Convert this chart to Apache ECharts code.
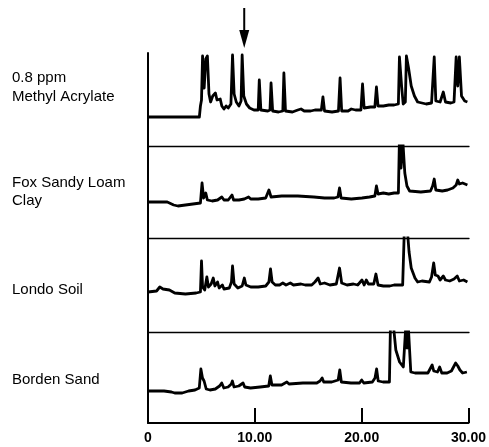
<!DOCTYPE html>
<html><head><meta charset="utf-8">
<script src="https://cdn.jsdelivr.net/npm/echarts@6/dist/echarts.min.js"></script>
<style>html,body{margin:0;padding:0;background:#fff}#c{width:489px;height:447px}</style>
</head><body><div id="c"></div>
<script>
// Retention-time axis (minutes)
const xTicks = [0, 10, 20, 30];
const arrowTime = 8.9;
const panelNames = [["0.8 ppm", "Methyl Acrylate"], ["Fox Sandy Loam", "Clay"], ["Londo Soil"], ["Borden Sand"]];

// Detector response per trace: [time, response]
const methylAcrylate = [[0,29],[4.8,29],[4.9,40],[5.0,46],[5.1,90],[5.25,58],[5.4,87],[5.55,90],[5.7,52],[5.85,44],[6.05,50],[6.3,53],[6.45,46],[6.6,44],[6.75,47],[6.9,40],[7.1,37],[7.3,40],[7.5,38],[7.75,42],[7.9,91],[8.05,52],[8.25,44],[8.5,40],[8.7,45],[8.8,91],[8.95,50],[9.2,42],[9.5,38],[9.9,36],[10.3,36],[10.4,66],[10.55,36],[11.2,35],[11.4,36],[11.5,63],[11.65,35],[12.2,34],[12.6,35],[12.7,73],[12.85,35],[13.5,34],[14.0,36],[14.3,37],[14.6,35],[15.2,35],[15.6,36],[16.2,36],[16.35,49],[16.5,35],[17.2,34],[17.8,35],[17.95,68],[18.1,35],[18.7,35],[19.0,37],[19.4,36],[19.9,36],[20.05,62],[20.2,38],[20.8,39],[21.2,39],[21.35,59],[21.5,40],[22.0,40],[22.5,41],[23.0,41],[23.4,42],[23.5,89],[23.7,60],[23.85,42],[24.05,44],[24.15,90],[24.35,78],[24.6,60],[24.9,50],[25.2,44],[25.6,43],[26.0,42],[26.5,43],[26.75,89],[26.9,45],[27.3,44],[27.6,54],[27.8,44],[28.3,43],[28.6,44],[28.8,89],[28.95,60],[29.1,89],[29.3,50],[29.6,45],[29.85,44]];
const foxSandyLoam = [[0,36],[1.8,36],[2.4,33],[2.8,32],[3.5,33],[4.2,34],[4.9,35],[5.05,55],[5.2,40],[5.4,45],[5.55,38],[6.0,37],[6.5,38],[6.9,41],[7.1,38],[7.5,38],[7.85,43],[8.0,38],[8.5,38],[9.0,39],[9.4,41],[9.6,39],[10.3,39],[11.0,40],[11.3,48],[11.5,41],[12.5,42],[14.0,42],[15.5,41],[16.5,40],[17.4,40],[17.75,41],[17.9,50],[18.05,40],[19.0,39],[20.0,40],[20.7,41],[21.2,42],[21.35,52],[21.5,44],[22.0,45],[22.5,44],[23.0,45],[23.4,45],[23.5,100],[23.65,70],[23.8,100],[24.0,65],[24.2,52],[24.45,47],[25.5,46],[26.4,47],[26.6,52],[26.75,59],[26.9,48],[27.5,47],[28.0,48],[28.5,50],[28.8,53],[28.95,58],[29.1,54],[29.4,55],[29.85,53]];
const londoSoil = [[0,40],[0.8,41],[1.1,45],[1.4,43],[2.0,42],[2.5,39],[3.5,38],[4.5,39],[4.9,40],[5.0,71],[5.1,45],[5.3,42],[5.5,55],[5.65,45],[5.9,48],[6.1,54],[6.25,46],[6.5,50],[6.65,44],[6.95,47],[7.1,43],[7.6,44],[7.8,50],[7.9,66],[8.05,48],[8.4,44],[8.8,46],[9.0,54],[9.15,47],[9.6,45],[10.3,45],[11.0,46],[11.3,50],[11.45,63],[11.6,50],[11.9,47],[12.3,47],[12.6,49],[12.9,47],[13.3,49],[13.6,47],[14.3,48],[14.7,47],[15.3,47],[15.6,50],[15.9,54],[16.1,48],[16.5,49],[17.0,47],[17.6,48],[17.9,64],[18.1,49],[18.6,47],[19.2,48],[19.6,47],[20.0,52],[20.2,47],[20.4,52],[20.6,48],[21.1,48],[21.3,58],[21.5,47],[22.0,46],[22.6,46],[23.0,47],[23.8,47],[23.95,100],[24.25,100],[24.4,80],[24.6,64],[24.95,54],[25.2,50],[25.6,51],[26.3,50],[26.5,55],[26.7,69],[26.85,57],[27.1,56],[27.3,52],[27.6,56],[27.8,52],[28.2,51],[28.6,53],[28.9,56],[29.1,51],[29.5,52],[29.85,50]];
const bordenSand = [[0,32],[1.5,32],[2.2,31],[2.5,30],[3.2,30],[3.8,32],[4.4,33],[4.8,35],[4.95,54],[5.1,45],[5.25,42],[5.45,34],[5.8,33],[6.3,34],[6.7,37],[6.9,40],[7.1,35],[7.5,36],[7.8,39],[7.9,42],[8.05,36],[8.5,37],[8.9,40],[9.05,36],[9.6,35],[10.5,36],[11.3,37],[11.45,47],[11.6,38],[12.5,38],[13.0,41],[13.2,39],[14.5,40],[15.8,40],[16.1,42],[16.3,45],[16.45,41],[17.2,41],[17.8,43],[17.95,53],[18.1,41],[19.0,40],[19.8,40],[20.0,43],[20.2,40],[21.0,41],[21.25,45],[21.4,54],[21.55,42],[22.0,41],[22.6,41],[22.7,100],[22.95,100],[23.2,73],[23.55,61],[23.9,56],[24.05,55],[24.15,100],[24.25,75],[24.35,100],[24.45,100],[24.6,51],[25.0,50],[25.6,50],[26.2,50],[26.4,54],[26.6,58],[26.75,52],[27.1,51],[27.3,56],[27.5,50],[28.0,50],[28.4,52],[28.6,56],[28.8,60],[29.0,57],[29.2,53],[29.45,50],[29.85,51]];

const traces = [methylAcrylate, foxSandyLoam, londoSoil, bordenSand];

// layout (pixels)
const panelTops = [53, 146, 238, 332];
const panelHeights = [93, 92, 94, 91];
const labelY = [[78, 97], [183, 201], [290], [380]];

const chart = echarts.init(document.getElementById('c'), null, {renderer: 'canvas'});
const grids = [], xAxes = [], yAxes = [], series = [];
traces.forEach((tr, i) => {
  const last = i === traces.length - 1;
  grids.push({left: 148, right: 20, top: panelTops[i], height: panelHeights[i], containLabel: false});
  xAxes.push({
    type: 'value', gridIndex: i, min: 0, max: 30, interval: 10,
    axisLine: {show: true, onZero: false, lineStyle: {color: '#000', width: last ? 2 : 1.3}},
    axisTick: {show: last, inside: true, length: 15, lineStyle: {color: '#000', width: 2}},
    axisLabel: {show: last, margin: 8, color: '#000', fontFamily: 'Liberation Sans, Arial', fontWeight: 'bold', fontSize: 14,
      formatter: v => v === 0 ? '0' : v.toFixed(2)},
    splitLine: {show: false}
  });
  yAxes.push({
    type: 'value', gridIndex: i, min: 0, max: panelHeights[i],
    axisLine: {show: true, lineStyle: {color: '#000', width: 2}},
    axisTick: {show: false}, axisLabel: {show: false}, splitLine: {show: false}
  });
  series.push({
    type: 'line', xAxisIndex: i, yAxisIndex: i, data: tr, symbol: 'none', clip: true,
    lineStyle: {color: '#000', width: 2.8, join: 'round'}, animation: false
  });
});

const graphics = [];
panelNames.forEach((lines, i) => {
  lines.forEach((t, j) => {
    graphics.push({type: 'text', x: 12, y: labelY[i][j],
      style: {text: t, fill: '#000', font: '15px "Liberation Sans", Arial', verticalAlign: 'middle', textVerticalAlign: 'middle'}});
  });
});

chart.setOption({animation: false, grid: grids, xAxis: xAxes, yAxis: yAxes, series: series, graphic: graphics});

const ax = chart.convertToPixel({xAxisIndex: 0}, arrowTime) + 1;
graphics.push({type: 'line', shape: {x1: ax, y1: 8, x2: ax, y2: 34}, style: {stroke: '#000', lineWidth: 2}});
graphics.push({type: 'polygon', shape: {points: [[ax - 5, 30], [ax + 5, 30], [ax, 48]]}, style: {fill: '#000'}});
chart.setOption({graphic: graphics});
</script></body></html>
